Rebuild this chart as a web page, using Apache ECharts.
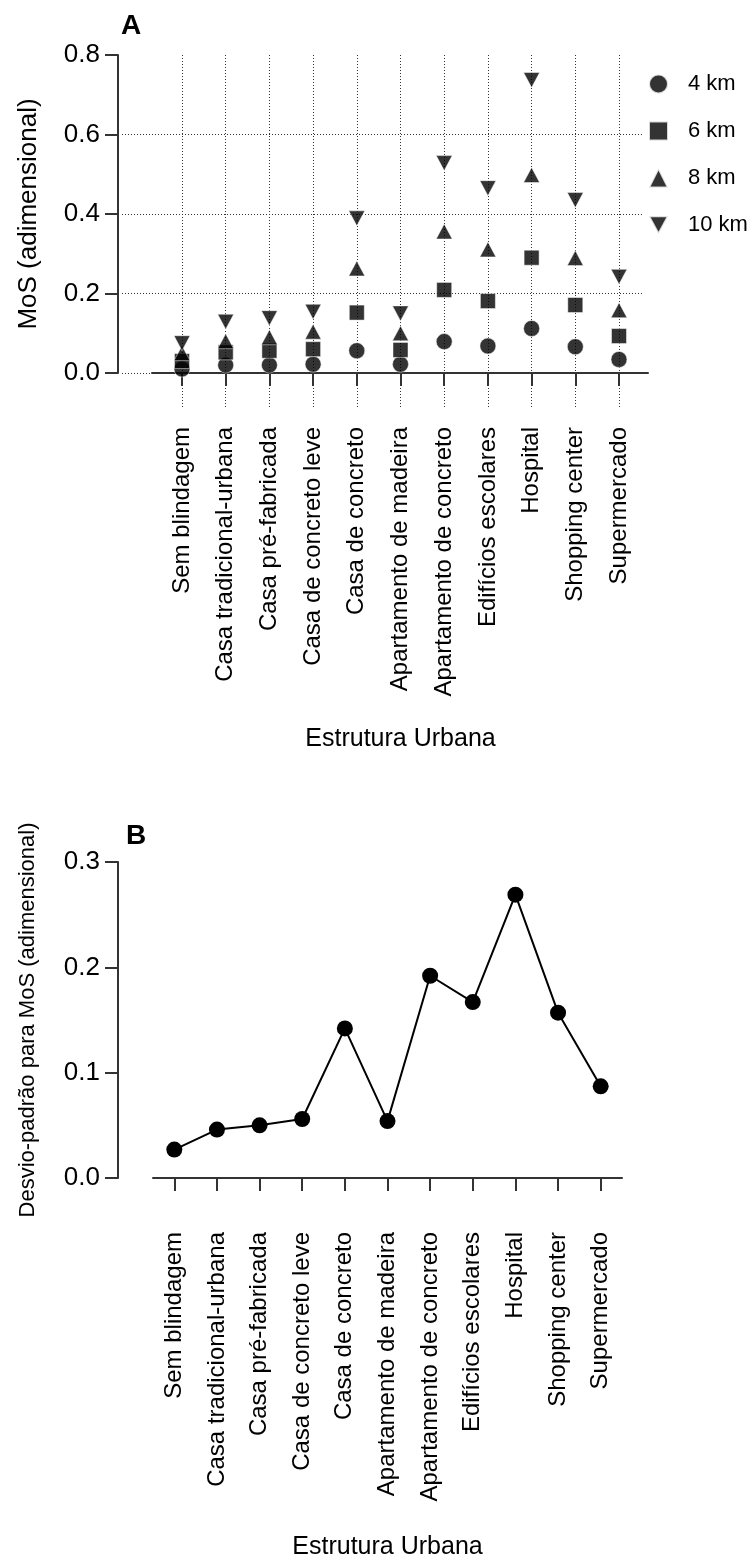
<!DOCTYPE html>
<html>
<head>
<meta charset="utf-8">
<script src="https://cdn.jsdelivr.net/npm/echarts@6/dist/echarts.min.js"></script>
<style>
  html, body { margin: 0; padding: 0; background: #fff; }
  #chart { width: 755px; height: 1561px; }
</style>
</head>
<body>
<div id="chart"></div>
<script>
// categorias (eixo x dos dois painéis)
var categorias = ['Sem blindagem', 'Casa tradicional-urbana', 'Casa pré-fabricada', 'Casa de concreto leve',
  'Casa de concreto', 'Apartamento de madeira', 'Apartamento de concreto', 'Edifícios escolares',
  'Hospital', 'Shopping center', 'Supermercado'];

// painel A: MoS por distância
var distancias = ['4 km', '6 km', '8 km', '10 km'];
var mos4km = [0.010, 0.020, 0.020, 0.022, 0.056, 0.022, 0.079, 0.068, 0.112, 0.066, 0.034];
var mos6km = [0.030, 0.052, 0.056, 0.060, 0.152, 0.058, 0.209, 0.181, 0.290, 0.171, 0.093];
var mos8km = [0.050, 0.080, 0.090, 0.104, 0.263, 0.100, 0.356, 0.311, 0.498, 0.289, 0.158];
var mos10km = [0.075, 0.129, 0.138, 0.154, 0.389, 0.150, 0.528, 0.465, 0.737, 0.435, 0.242];

// painel B: desvio-padrão
var desvio = [0.027, 0.046, 0.050, 0.056, 0.142, 0.054, 0.192, 0.167, 0.269, 0.157, 0.087];

// escalas dos eixos y
var yA = { min: 0, max: 0.8, step: 0.2 };
var yB = { min: 0, max: 0.3, step: 0.1 };

(function () {
  var myChart = echarts.init(document.getElementById('chart'));
  var FONT = '"Liberation Sans", Arial, sans-serif';
  var AXIS = '#333';
  var dotted = { color: '#333', width: 1, type: [1, 2] };
  var downTri = 'path://M0,0L14,0L7,13Z';

  var lbl = function (v) { return v.toFixed(1); };

  option = {
    animation: false,
    textStyle: { fontFamily: FONT, color: '#000' },
    graphic: [
      { type: 'text', left: 121, top: 12, style: { text: 'A', font: 'bold 28px ' + FONT, fill: '#000' } },
      { type: 'text', left: 126, top: 822, style: { text: 'B', font: 'bold 28px ' + FONT, fill: '#000' } }
    ],
    legend: {
      orient: 'vertical',
      left: 643,
      top: 68,
      itemWidth: 19,
      itemHeight: 19,
      itemGap: 25,
      data: distancias,
      textStyle: { fontSize: 22, color: '#000', fontFamily: FONT, padding: [0, 0, 0, 15] }
    },
    grid: [
      { left: 182, right: 136, top: 55, height: 318 },   // 0: dados A
      { left: 152, right: 107, top: 55, height: 318 },   // 1: linha do eixo x A
      { left: 122, right: 112, top: 55, height: 318 },   // 2: grade horizontal A
      { left: 182, right: 136, top: 55, height: 354 },   // 3: grade vertical A
      { left: 153, right: 133, top: 862, height: 318 }   // 4: painel B
    ],
    xAxis: [
      {
        gridIndex: 0, type: 'category', data: categorias, boundaryGap: false, offset: 36,
        axisLine: { show: false },
        axisTick: { show: true, interval: 0, length: 13, lineStyle: { color: AXIS, width: 2 } },
        axisLabel: { interval: 0, rotate: 90, margin: 18, fontSize: 24, color: '#000', fontFamily: FONT },
        splitLine: { show: false },
        name: 'Estrutura Urbana', nameLocation: 'middle', nameGap: 318,
        nameTextStyle: { fontSize: 25, color: '#000', fontFamily: FONT }
      },
      {
        gridIndex: 1, type: 'value', min: 0, max: 1, offset: 36,
        axisLine: { show: true, lineStyle: { color: AXIS, width: 2 } },
        axisTick: { show: false }, axisLabel: { show: false }, splitLine: { show: false }
      },
      { gridIndex: 2, type: 'value', show: false },
      {
        gridIndex: 3, type: 'category', data: categorias, boundaryGap: false,
        axisLine: { show: false }, axisTick: { show: false }, axisLabel: { show: false },
        splitLine: { show: true, interval: 0, lineStyle: dotted }
      },
      {
        gridIndex: 4, type: 'category', data: categorias, offset: 36,
        axisLine: { show: true, lineStyle: { color: AXIS, width: 2 } },
        axisTick: { show: true, interval: 0, alignWithLabel: true, length: 13, lineStyle: { color: AXIS, width: 2 } },
        axisLabel: { interval: 0, rotate: 90, margin: 18, fontSize: 24, color: '#000', fontFamily: FONT },
        name: 'Estrutura Urbana', nameLocation: 'middle', nameGap: 321,
        nameTextStyle: { fontSize: 25, color: '#000', fontFamily: FONT }
      }
    ],
    yAxis: [
      {
        gridIndex: 0, type: 'value', min: yA.min, max: yA.max, interval: yA.step, offset: 64,
        axisLine: { show: true, lineStyle: { color: AXIS, width: 2 } },
        axisTick: { show: true, length: 13, lineStyle: { color: AXIS, width: 2 } },
        axisLabel: { fontSize: 26, color: '#000', margin: 18, formatter: lbl, fontFamily: FONT },
        splitLine: { show: false },
        name: 'MoS (adimensional)', nameLocation: 'middle', nameGap: 76,
        nameTextStyle: { fontSize: 26, color: '#000', fontFamily: FONT }
      },
      { gridIndex: 1, type: 'value', show: false },
      {
        gridIndex: 2, type: 'value', min: yA.min, max: yA.max, interval: yA.step,
        axisLine: { show: false }, axisTick: { show: false }, axisLabel: { show: false },
        splitLine: { show: true, showMaxLine: false, lineStyle: dotted }
      },
      { gridIndex: 3, type: 'value', show: false },
      {
        gridIndex: 4, type: 'value', min: yB.min, max: yB.max, interval: yB.step, offset: 35,
        axisLine: { show: true, lineStyle: { color: AXIS, width: 2 } },
        axisTick: { show: true, length: 13, lineStyle: { color: AXIS, width: 2 } },
        axisLabel: { fontSize: 26, color: '#000', margin: 18, formatter: lbl, fontFamily: FONT },
        splitLine: { show: false },
        name: 'Desvio-padrão para MoS (adimensional)', nameLocation: 'middle', nameGap: 79,
        nameTextStyle: { fontSize: 22, color: '#000', fontFamily: FONT }
      }
    ],
    series: [
      {
        name: '4 km', type: 'scatter', xAxisIndex: 0, yAxisIndex: 0, data: mos4km,
        symbol: 'circle', symbolSize: 16, itemStyle: { color: '#000', borderColor: '#fff', borderWidth: 0.6 }
      },
      {
        name: '6 km', type: 'scatter', xAxisIndex: 0, yAxisIndex: 0, data: mos6km,
        symbol: 'rect', symbolSize: 15, itemStyle: { color: '#000', borderColor: '#fff', borderWidth: 0.6 }
      },
      {
        name: '8 km', type: 'scatter', xAxisIndex: 0, yAxisIndex: 0, data: mos8km,
        symbol: 'triangle', symbolSize: [16, 15], itemStyle: { color: '#000', borderColor: '#fff', borderWidth: 0.6 }
      },
      {
        name: '10 km', type: 'scatter', xAxisIndex: 0, yAxisIndex: 0, data: mos10km,
        symbol: downTri, symbolSize: [16, 15], itemStyle: { color: '#000', borderColor: '#fff', borderWidth: 0.6 }
      },
      {
        name: 'Desvio', type: 'line', xAxisIndex: 4, yAxisIndex: 4, data: desvio,
        symbol: 'circle', symbolSize: 16, showSymbol: true,
        lineStyle: { color: '#000', width: 2 }, itemStyle: { color: '#000' }
      }
    ]
  };

  myChart.setOption(option);
  window.addEventListener('resize', function () {
    myChart.resize();
  });
})();
</script>
</body>
</html>
